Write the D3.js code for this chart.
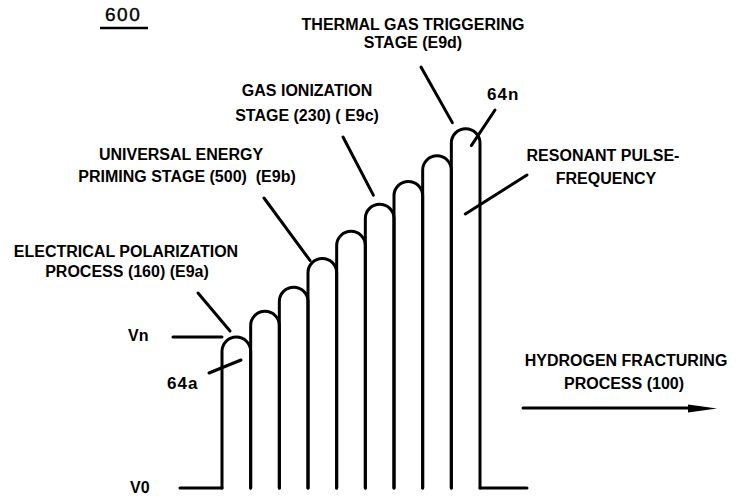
<!DOCTYPE html>
<html>
<head>
<meta charset="utf-8">
<script src="https://cdn.jsdelivr.net/npm/d3@7"></script>
<style>
  body { margin: 0; background: #fff; }
  svg { display: block; }
  text { font-family: "Liberation Sans", Arial, sans-serif; font-weight: bold; fill: #000; white-space: pre; }
  .lbl { font-size: 16px; }
  .ref { font-size: 17px; letter-spacing: 1px; }
</style>
</head>
<body>
<svg width="752" height="497"></svg>
<script>
// **** Data ****

// pulse train: 9 pulses, peak voltage relative to Vn (first pulse = 1)
var pulseIndex = [1, 2, 3, 4, 5, 6, 7, 8, 9];
var pulsePeak = [1.00, 1.17, 1.33, 1.52, 1.70, 1.88, 2.03, 2.20, 2.38];

var levelLabels = ["V0", "Vn"];
var stageE9a = ["ELECTRICAL POLARIZATION", "PROCESS (160) (E9a)"];
var stageE9b = ["UNIVERSAL ENERGY", "PRIMING STAGE (500)  (E9b)"];
var stageE9c = ["GAS IONIZATION", "STAGE (230) ( E9c)"];
var stageE9d = ["THERMAL GAS TRIGGERING", "STAGE (E9d)"];
var resonantLabel = ["RESONANT PULSE-", "FREQUENCY"];
var processLabel = ["HYDROGEN FRACTURING", "PROCESS (100)"];
var figureNo = "600";
var pulseRefs = ["64a", "64n"];

// **** Scales ****

var x = d3.scaleLinear().domain([0, pulseIndex.length]).range([222, 480]);
var y = d3.scaleLinear().domain([0, 1]).range([488, 337]);

var svg = d3.select('svg');
var ink = svg.append('g')
    .attr('fill', 'none')
    .attr('stroke', '#000')
    .attr('stroke-width', 3)
    .attr('stroke-linecap', 'round')
    .attr('stroke-linejoin', 'round');

// **** Pulse train ****

ink.append('line')
    .attr('x1', 180).attr('x2', x(0))
    .attr('y1', y(0)).attr('y2', y(0));

ink.selectAll('path.pulse')
    .data(pulsePeak)
    .enter()
    .append('path')
    .attr('class', 'pulse')
    .attr('d', function(d, i) {
        var x0 = x(i), x1 = x(i + 1);
        var r = (x1 - x0) / 2;
        var top = y(d) + r;
        return 'M' + x0 + ',' + y(0) +
               'L' + x0 + ',' + top +
               'A' + r + ',' + r + ' 0 0 1 ' + x1 + ',' + top +
               'L' + x1 + ',' + y(0);
    });

ink.append('line')
    .attr('x1', x(pulseIndex.length)).attr('x2', 527)
    .attr('y1', y(0)).attr('y2', y(0));

// **** Leader lines ****

function leader(x1, y1, x2, y2) {
    ink.append('line')
        .attr('x1', x1).attr('y1', y1)
        .attr('x2', x2).attr('y2', y2);
}

leader(173, y(1), x(0), y(1));                        // Vn
leader(198, 293, x(0) + 8, y(pulsePeak[0]) - 6);      // E9a
leader(209, 373, x(0) + 19, 360);                     // 64a
leader(264, 198, x(3) + 2, y(pulsePeak[3]) + 2);      // E9b
leader(343, 137, x(5) + 8, y(pulsePeak[5]) - 9);      // E9c
leader(421, 67, x(8) + 1, y(pulsePeak[8]) - 6);       // E9d
leader(495, 110, x(8) + 20, y(pulsePeak[8]) + 17);    // 64n
leader(527, 175, x(8) + 14, 214);                     // resonant

// process arrow
ink.append('line')
    .attr('x1', 523).attr('y1', 408)
    .attr('x2', 700).attr('y2', 408);
svg.append('path')
    .attr('d', 'M688,404.5 L717,408.5 L688,412.5 Z')
    .attr('fill', '#000');

// **** Text ****

function label(lines, cx, baselines) {
    lines.forEach(function(t, i) {
        svg.append('text')
            .attr('class', 'lbl')
            .attr('text-anchor', 'middle')
            .attr('x', cx[i]).attr('y', baselines[i])
            .text(t);
    });
}

label(stageE9d, [413, 413], [30, 48]);
label(stageE9c, [307, 307], [96, 121]);
label(stageE9b, [181, 187], [160, 182]);
label(stageE9a, [126, 127], [257, 277]);
label(resonantLabel, [603, 606], [161, 184]);
label(processLabel, [626, 624], [366, 389]);

svg.append('text').attr('class', 'lbl')
    .attr('x', 128).attr('y', 341).text(levelLabels[1]);
svg.append('text').attr('class', 'lbl')
    .attr('x', 130).attr('y', 493).text(levelLabels[0]);

svg.append('text').attr('class', 'ref')
    .attr('x', 167).attr('y', 389).text(pulseRefs[0]);
svg.append('text').attr('class', 'ref')
    .attr('x', 487).attr('y', 100).text(pulseRefs[1]);

svg.append('text')
    .attr('x', 105).attr('y', 21)
    .style('font-size', '19px')
    .style('font-weight', 'normal')
    .style('letter-spacing', '1.5px')
    .style('stroke', '#000').style('stroke-width', 0.4)
    .text(figureNo);
svg.append('line')
    .attr('x1', 100).attr('x2', 148)
    .attr('y1', 28).attr('y2', 28)
    .attr('stroke', '#000').attr('stroke-width', 2.5);
</script>
</body>
</html>
